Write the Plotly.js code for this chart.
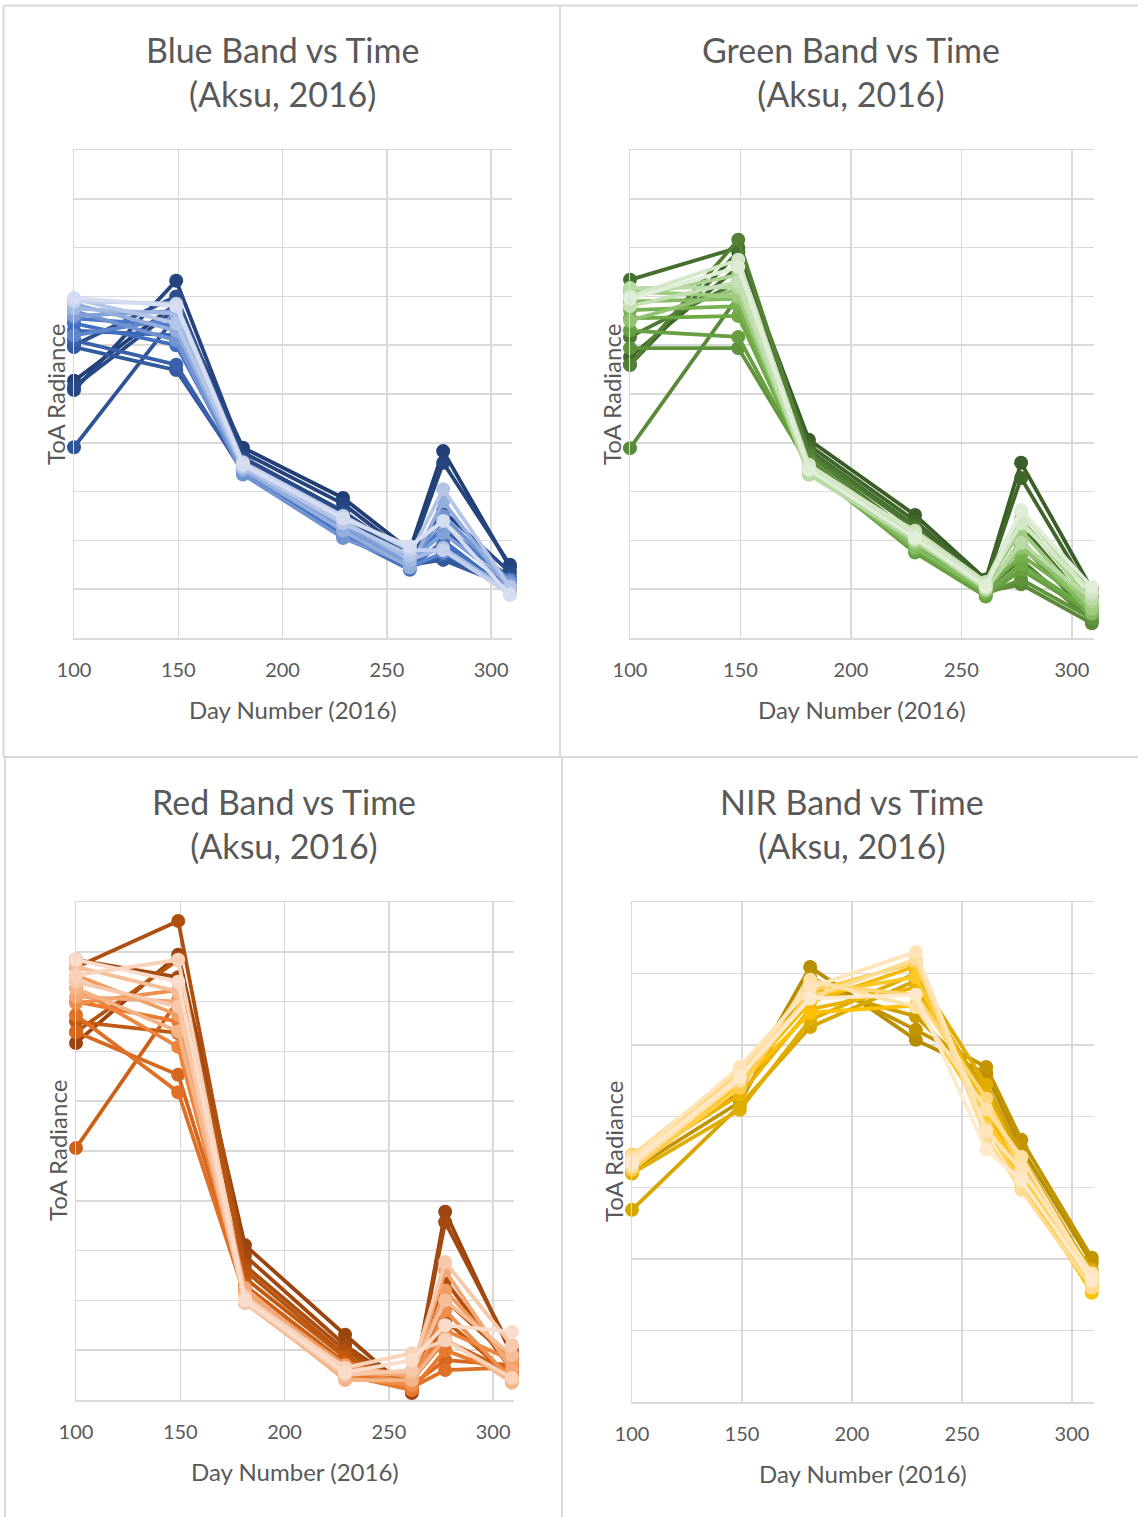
<!DOCTYPE html>
<html>
<head>
<meta charset="utf-8">
<script src="https://cdn.plot.ly/plotly-3.0.1.min.js"></script>
<style>html,body{margin:0;padding:0;background:#fff;}#chart{width:1138px;height:1517px;}</style>
</head>
<body>
<div id="chart"></div>
<script>
// ---------- DATA ----------
const dayNumbers = [100, 149, 181, 229, 261, 277, 309];
const xTickValues = [100, 150, 200, 250, 300];
const xTickLabels = ["100", "150", "200", "250", "300"];
const panelTitles = ["Blue Band vs Time<br>(Aksu, 2016)", "Green Band vs Time<br>(Aksu, 2016)",
                     "Red Band vs Time<br>(Aksu, 2016)", "NIR Band vs Time<br>(Aksu, 2016)"];
const xAxisTitle = "Day Number (2016)";
const yAxisTitle = "ToA Radiance";

// relative ToA radiance (arbitrary units, no tick labels in the original)
const blueValues = [
  [5.27, 6.85, 3.90, 2.87, 1.80, 3.83, 1.45],
  [5.08, 7.32, 3.80, 2.75, 1.70, 3.59, 1.50],
  [5.15, 6.75, 3.70, 2.60, 1.65, 2.60, 1.35],
  [6.00, 7.00, 3.65, 2.55, 1.60, 2.20, 1.25],
  [3.91, 6.60, 3.55, 2.45, 1.55, 1.65, 1.15],
  [5.96, 5.49, 3.45, 2.30, 1.50, 1.60, 1.05],
  [6.10, 5.60, 3.40, 2.20, 1.45, 1.70, 1.10],
  [6.30, 6.20, 3.50, 2.40, 1.55, 1.90, 1.00],
  [6.45, 6.00, 3.45, 2.10, 1.40, 2.00, 0.95],
  [6.55, 6.40, 3.55, 2.35, 1.50, 2.30, 1.20],
  [6.20, 6.55, 3.40, 2.25, 1.45, 1.75, 1.05],
  [6.70, 6.10, 3.35, 2.05, 1.50, 2.50, 1.15],
  [6.60, 6.70, 3.50, 2.30, 1.55, 2.15, 1.10],
  [6.85, 6.30, 3.45, 2.20, 1.45, 2.80, 1.00],
  [6.75, 6.65, 3.55, 2.40, 1.60, 1.85, 0.95],
  [6.95, 6.45, 3.50, 2.35, 1.70, 3.05, 1.05],
  [6.90, 6.85, 3.60, 2.50, 1.80, 1.80, 0.90],
  [6.97, 6.80, 3.55, 2.45, 1.88, 2.40, 0.88]
];
const greenValues = [
  [5.60, 7.91, 4.06, 2.52, 1.20, 3.59, 1.00],
  [5.76, 7.60, 3.95, 2.40, 1.15, 3.28, 0.85],
  [7.34, 8.00, 3.85, 2.30, 1.10, 2.30, 0.60],
  [6.17, 7.30, 3.80, 2.25, 1.05, 1.90, 0.45],
  [5.60, 8.16, 3.75, 2.10, 1.00, 1.60, 0.35],
  [3.89, 7.00, 3.65, 2.00, 0.95, 1.10, 0.30],
  [5.94, 5.94, 3.55, 1.90, 0.90, 1.20, 0.40],
  [6.30, 6.17, 3.50, 1.75, 0.85, 1.40, 0.50],
  [6.55, 6.60, 3.45, 1.80, 0.90, 1.50, 0.55],
  [6.72, 6.80, 3.40, 1.95, 1.00, 1.70, 0.65],
  [6.90, 6.95, 3.45, 1.85, 0.95, 2.00, 0.50],
  [6.50, 7.15, 3.35, 2.05, 1.05, 1.85, 0.70],
  [7.10, 7.00, 3.40, 1.95, 1.10, 2.20, 0.60],
  [6.99, 7.44, 3.50, 2.10, 1.05, 2.45, 0.75],
  [7.17, 7.19, 3.35, 2.00, 1.00, 1.95, 0.80],
  [6.80, 7.30, 3.45, 2.20, 1.15, 2.60, 0.90],
  [7.00, 7.75, 3.55, 2.15, 1.10, 2.35, 0.95],
  [6.95, 7.60, 3.45, 2.05, 1.05, 2.62, 1.05]
];
const redValues = [
  [7.17, 8.94, 3.11, 1.31, 0.14, 3.78, 0.90],
  [8.84, 8.49, 2.90, 1.10, 0.20, 3.57, 1.00],
  [8.69, 9.62, 2.70, 1.00, 0.25, 2.40, 0.60],
  [7.39, 8.84, 2.60, 0.90, 0.30, 2.00, 0.80],
  [7.60, 7.37, 2.45, 0.85, 0.35, 1.60, 0.45],
  [5.06, 8.03, 2.30, 0.75, 0.40, 1.20, 0.55],
  [7.39, 6.53, 2.20, 0.65, 0.30, 0.80, 0.70],
  [7.73, 6.18, 2.10, 0.55, 0.25, 0.60, 0.65],
  [8.00, 7.60, 2.00, 0.50, 0.20, 1.00, 0.50],
  [8.27, 7.09, 2.05, 0.60, 0.35, 1.40, 0.80],
  [7.97, 8.23, 1.95, 0.45, 0.30, 1.80, 0.40],
  [8.53, 7.73, 2.15, 0.70, 0.45, 2.20, 0.75],
  [8.10, 8.00, 2.25, 0.55, 0.50, 2.60, 0.60],
  [8.27, 7.40, 2.00, 0.40, 0.40, 1.24, 0.35],
  [8.70, 8.20, 2.10, 0.60, 0.55, 2.00, 0.90],
  [8.40, 7.90, 1.95, 0.50, 0.60, 2.77, 1.10],
  [8.53, 8.84, 2.05, 0.65, 0.94, 1.20, 0.44],
  [8.84, 8.40, 2.00, 0.55, 0.80, 1.50, 1.37]
];
const nirValues = [
  [3.30, 4.35, 6.09, 5.07, 4.60, 3.55, 1.95],
  [3.25, 4.20, 5.95, 5.21, 4.69, 3.67, 2.02],
  [3.40, 4.40, 5.80, 5.40, 4.45, 3.45, 1.80],
  [2.69, 4.15, 5.25, 5.90, 4.30, 3.40, 1.70],
  [3.20, 4.09, 5.35, 6.00, 4.44, 3.25, 1.85],
  [3.35, 4.30, 5.50, 5.80, 4.20, 3.30, 1.60],
  [3.46, 4.50, 5.60, 6.10, 4.10, 3.15, 1.75],
  [3.30, 4.45, 5.45, 5.55, 4.00, 3.10, 1.53],
  [3.40, 4.55, 5.70, 5.95, 3.95, 3.20, 1.65],
  [3.25, 4.40, 5.75, 6.15, 3.85, 3.05, 1.80],
  [3.35, 4.60, 5.85, 5.70, 4.25, 3.30, 1.70],
  [3.45, 4.65, 5.66, 6.20, 3.70, 2.97, 1.60],
  [3.30, 4.50, 5.91, 5.53, 4.10, 3.43, 1.75],
  [3.40, 4.69, 5.80, 6.30, 3.80, 3.25, 1.80],
  [3.35, 4.55, 5.65, 5.70, 3.53, 3.10, 1.70]
];

// ---------- STYLE ----------
const W = 1138, H = 1517;
const px = v => v / W;
const py = v => 1 - v / H;
const TXT = "#595959";
const GRID = "#d9d9d9";
const FONT = "Lato, 'Open Sans', sans-serif";

function hexToRgb(h){h=h.replace('#','');return [0,2,4].map(i=>parseInt(h.substr(i,2),16));}
function gradient(stops, n){
  const cols=[];const s=stops.map(hexToRgb);
  for(let i=0;i<n;i++){
    const t=n===1?0:i/(n-1);const seg=t*(s.length-1);
    const k=Math.min(Math.floor(seg),s.length-2);const f=seg-k;
    const c=s[k].map((v,j)=>Math.round(v+(s[k+1][j]-v)*f));
    cols.push(`rgb(${c[0]},${c[1]},${c[2]})`);
  }
  return cols;
}

const panels = [
  {vals: blueValues,  stops:["#223f75","#2f5597","#4472c4","#8faadc","#d6ddf1"], xa:"x",  ya:"y",
   xd:[74,512], yd:[150,638], ymax:10},
  {vals: greenValues, stops:["#3a5e27","#548235","#70ad47","#a9d18e","#e0eed8"], xa:"x2", ya:"y2",
   xd:[630,1094], yd:[150,638], ymax:10},
  {vals: redValues,   stops:["#9a4510","#c55a11","#ed7d31","#f4b183","#fadccb"], xa:"x3", ya:"y3",
   xd:[76,514], yd:[902,1400], ymax:10},
  {vals: nirValues,   stops:["#b88d00","#dcaa00","#ffc000","#ffd98a","#ffe9cc"], xa:"x4", ya:"y4",
   xd:[632,1094], yd:[902,1402], ymax:7}
];

const traces = [];
panels.forEach(p=>{
  const cols = gradient(p.stops, p.vals.length);
  p.vals.forEach((row,i)=>{
    traces.push({
      type:"scatter", mode:"lines+markers", x:dayNumbers, y:row,
      xaxis:p.xa, yaxis:p.ya, cliponaxis:false, showlegend:false, hoverinfo:"skip",
      line:{color:cols[i], width:3.8},
      marker:{color:cols[i], size:14}
    });
  });
});

const layout = {
  width:W, height:H, margin:{l:0,r:0,t:0,b:0},
  paper_bgcolor:"#fff", plot_bgcolor:"rgba(0,0,0,0)",
  font:{family:FONT, color:TXT}, showlegend:false,
  annotations:[], shapes:[]
};

const titleCenters = [[282,71],[851,71],[284,824],[852,824]];
const xTitlePos = [[293,709],[862,709],[295,1471],[863,1473]];
const yTitlePos = [[55,395],[611,395],[57,1151],[613,1152]];

panels.forEach((p,k)=>{
  const sx = k===0?"":String(k+1);
  layout["xaxis"+sx] = {
    domain:[px(p.xd[0]), px(p.xd[1])], anchor:p.ya, range:[100,310],
    tickvals:xTickValues, ticktext:xTickLabels, showgrid:true, gridcolor:GRID, gridwidth:1.5,
    zeroline:false, showline:true, mirror:true, linecolor:GRID, linewidth:1.5,
    ticks:"outside", ticklen:13, tickcolor:"rgba(0,0,0,0)",
    tickfont:{size:20, color:TXT, family:FONT}, fixedrange:true
  };
  layout["yaxis"+sx] = {
    domain:[py(p.yd[1]), py(p.yd[0])], anchor:p.xa, range:[0,p.ymax], dtick:1,
    showticklabels:false, showgrid:true, gridcolor:GRID, gridwidth:1.5,
    zeroline:false, showline:true, mirror:false, linecolor:GRID, linewidth:1.5,
    ticks:"", fixedrange:true
  };
  layout.annotations.push({
    text:panelTitles[k], xref:"paper", yref:"paper", x:px(titleCenters[k][0]), y:py(titleCenters[k][1]),
    xanchor:"center", yanchor:"middle", showarrow:false, font:{size:34, color:TXT, family:FONT}
  });
  layout.annotations.push({
    text:xAxisTitle, xref:"paper", yref:"paper", x:px(xTitlePos[k][0]), y:py(xTitlePos[k][1]),
    xanchor:"center", yanchor:"middle", showarrow:false, font:{size:24, color:TXT, family:FONT}
  });
  layout.annotations.push({
    text:yAxisTitle, xref:"paper", yref:"paper", x:px(yTitlePos[k][0]), y:py(yTitlePos[k][1]),
    xanchor:"center", yanchor:"middle", textangle:-90, showarrow:false, font:{size:24, color:TXT, family:FONT}
  });
});

// panel borders
const borderLines = [
  [3.5,5.5,1138,5.5],[3.5,5.5,3.5,757],[560,5.5,560,757],
  [3.5,757,1138,757],[5,757,5,1517],[562,757,562,1517]
];
borderLines.forEach(b=>{
  layout.shapes.push({type:"line", xref:"paper", yref:"paper",
    x0:px(b[0]), y0:py(b[1]), x1:px(b[2]), y1:py(b[3]), line:{color:GRID, width:2}});
});

Plotly.newPlot("chart", traces, layout, {staticPlot:true, displayModeBar:false});
</script>
</body>
</html>
